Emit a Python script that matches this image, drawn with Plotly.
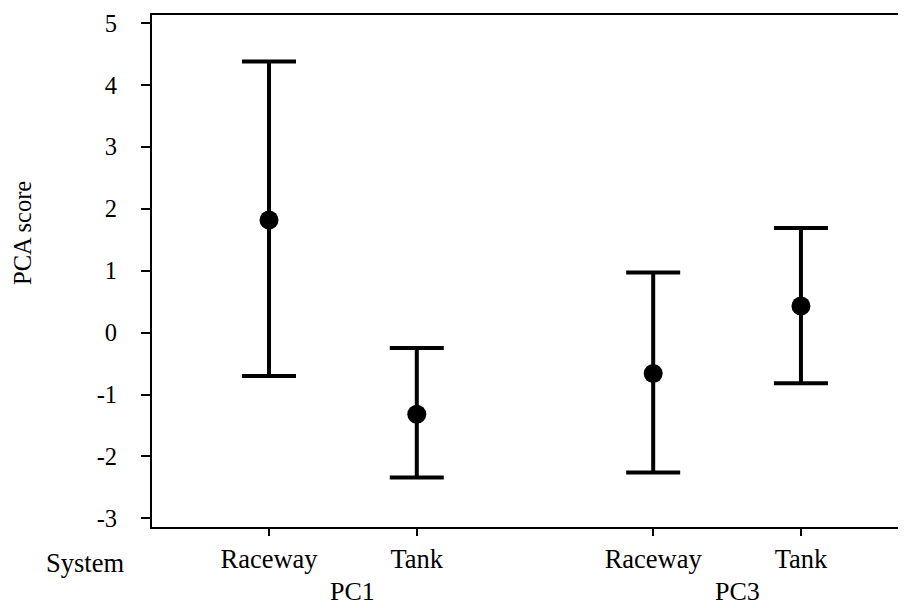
import plotly.graph_objects as go

groups = ["PC1", "PC3"]
systems = ["Raceway", "Tank"]
means = [1.82, -1.32, -0.66, 0.43]
upper = [4.38, -0.25, 0.97, 1.69]
lower = [-0.70, -2.34, -2.26, -0.82]
ytick_vals = [-3, -2, -1, 0, 1, 2, 3, 4, 5]
ytick_text = ["-3", "-2", "-1", "0", "1", "2", "3", "4", "5"]

FONT = "Liberation Serif"
group_gap = 2.6

xpos, xlabels = [], []
for gi, g in enumerate(groups):
    for si, s in enumerate(systems):
        xpos.append(gi * group_gap + si)
        xlabels.append(s)

err_plus = [u - m for u, m in zip(upper, means)]
err_minus = [m - l for m, l in zip(means, lower)]

fig = go.Figure()
fig.add_trace(go.Scatter(
    x=xpos, y=means, mode="markers",
    marker=dict(color="black", size=19),
    error_y=dict(type="data", symmetric=False, array=err_plus, arrayminus=err_minus,
                 color="black", thickness=4, width=27),
    showlegend=False,
))

# page body has an 8px margin, so the figure is 8px smaller than the window
fig.update_layout(
    width=898, height=600,
    margin=dict(l=144, r=0, t=7, b=81),
    plot_bgcolor="white", paper_bgcolor="white",
    font=dict(family=FONT, color="black"),
    xaxis=dict(range=[-0.792, 4.311], tickmode="array", tickvals=xpos, ticktext=xlabels,
               showline=True, linecolor="black", linewidth=2, mirror=True,
               ticks="outside", ticklen=7, tickwidth=2, tickcolor="black",
               tickfont=dict(size=26.5, family=FONT), showgrid=False, zeroline=False,
               automargin=False),
    yaxis=dict(range=[-3.14, 5.13], tickmode="array", tickvals=ytick_vals, ticktext=ytick_text,
               showline=True, linecolor="black", linewidth=2,
               ticks="outside", ticklen=9, tickwidth=2, tickcolor="black",
               tickfont=dict(size=24.5, family=FONT), showgrid=False, zeroline=False,
               ticklabelstandoff=19, automargin=False),
)

fig.add_annotation(text="PCA score", xref="paper", yref="y", x=(23 - 152) / 754, y=1.61,
                   textangle=-90, showarrow=False, font=dict(size=24.5, family=FONT),
                   xanchor="center", yanchor="middle")
fig.add_annotation(text="System", xref="paper", yref="paper", x=(84.5 - 152) / 754,
                   y=(527 - 563) / 512, showarrow=False, font=dict(size=26.5, family=FONT),
                   xanchor="center", yanchor="middle")
for gi, g in enumerate(groups):
    gx = [xpos[i] for i in range(len(xpos)) if i // len(systems) == gi]
    fig.add_annotation(text=g, xref="x", yref="paper", x=sum(gx) / len(gx), xshift=10,
                       y=(527 - 607) / 512, showarrow=False, font=dict(size=26, family=FONT),
                       xanchor="center", yanchor="bottom", borderpad=0)

fig.write_html("out.html")
